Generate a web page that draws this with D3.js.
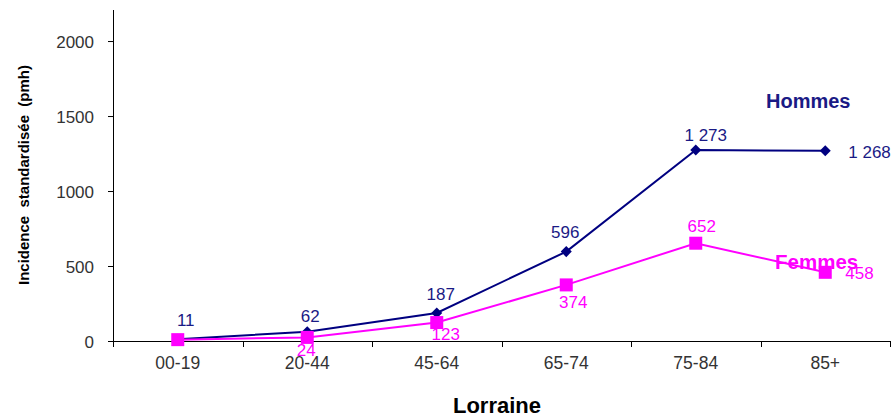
<!DOCTYPE html>
<html><head><meta charset="utf-8">
<script src="https://cdn.jsdelivr.net/npm/d3@7"></script>
<style>
body{margin:0;background:#fff;}
text{font-family:"Liberation Sans",Arial,sans-serif;}
</style></head>
<body>
<svg id="chart" width="893" height="417"></svg>
<script>
// Age groups and standardised incidence per sex (pmh)
const categories = ["00-19","20-44","45-64","65-74","75-84","85+"];
const hommes = [11, 62, 187, 596, 1273, 1268];
const femmes = [9, 24, 123, 374, 652, 458];
const hommesLabels = ["11","62","187","596","1 273","1 268"];
const femmesLabels = [null,"24","123","374","652","458"];
const yTicks = [0, 500, 1000, 1500, 2000];

const svg = d3.select("#chart");
const x = d3.scaleBand().domain(categories).range([113, 890]);
const y = d3.scaleLinear().domain([0, 2207]).range([341, 10]);

const navy = "#000080", navyText = "#1a1a85", pink = "#ff00ff";

// Y axis
const yAxis = svg.append("g").attr("transform","translate(113,0)")
  .call(d3.axisLeft(y).tickValues(yTicks).tickFormat(d3.format("d"))
    .tickSize(5).tickSizeOuter(0).tickPadding(14));
yAxis.select(".domain").remove();
yAxis.selectAll("line").attr("stroke","#000");
yAxis.selectAll("text").attr("font-size",17).attr("fill","#333")
  .attr("font-family","Liberation Sans, Arial, sans-serif").attr("dy","0.36em");
svg.append("line").attr("x1",113.5).attr("x2",113.5).attr("y1",10).attr("y2",341).attr("stroke","#000");

// X axis with ticks at category boundaries
svg.append("line").attr("x1",108).attr("x2",890).attr("y1",341.5).attr("y2",341.5).attr("stroke","#000");
const bounds = categories.map(c => x(c)).concat([x.range()[1]]);
svg.selectAll(".xt").data(bounds).enter().append("line")
  .attr("x1",d=>Math.round(d)+0.5).attr("x2",d=>Math.round(d)+0.5)
  .attr("y1",341).attr("y2",347).attr("stroke","#000");
svg.selectAll(".xl").data(categories).enter().append("text")
  .attr("x",d=>x(d)+x.bandwidth()/2).attr("y",369)
  .attr("text-anchor","middle").attr("font-size",17.5).attr("fill","#333").text(d=>d);

// Titles
svg.append("text").attr("transform","translate(29,175) rotate(-90)")
  .attr("text-anchor","middle").attr("font-size",15).attr("font-weight","bold")
  .attr("xml:space","preserve").text("Incidence  standardisée  (pmh)");
svg.append("text").attr("x",497).attr("y",413).attr("text-anchor","middle")
  .attr("font-size",22).attr("font-weight","bold").text("Lorraine");

const cx = c => x(c) + x.bandwidth()/2;
const line = d3.line().x((d,i)=>cx(categories[i])).y(d=>y(d));

// Lines
svg.append("path").datum(hommes).attr("d",line).attr("fill","none").attr("stroke",navy).attr("stroke-width",2);
svg.append("path").datum(femmes).attr("d",line).attr("fill","none").attr("stroke",pink).attr("stroke-width",2);

// Markers
svg.selectAll(".hm").data(hommes).enter().append("path")
  .attr("d", d3.symbol().type(d3.symbolDiamond2).size(78))
  .attr("transform",(d,i)=>`translate(${cx(categories[i])},${y(d)})`).attr("fill",navy);
svg.selectAll(".fm").data(femmes).enter().append("rect")
  .attr("x",(d,i)=>cx(categories[i])-6.5).attr("y",d=>y(d)-6.5)
  .attr("width",13).attr("height",13).attr("fill",pink);

// Value labels: offsets (dx, dy, anchor) from each point
const hOff = [[8,-13,"middle"],[3,-10,"middle"],[4,-13,"middle"],[-1,-14,"middle"],[10,-9,"middle"],[23,7,"start"]];
const fOff = [null,[-1,19,"middle"],[9,17,"middle"],[7,23,"middle"],[6,-11,"middle"],[20,7,"start"]];
function place(vals, labels, offs, color){
  const items = vals.map((v,i)=>({v, i, label: labels[i], off: offs[i]})).filter(d=>d.label!==null);
  svg.selectAll(null).data(items).enter().append("text")
    .attr("x",d=>cx(categories[d.i])+d.off[0])
    .attr("y",d=>y(d.v)+d.off[1])
    .attr("text-anchor",d=>d.off[2])
    .attr("font-size",17).attr("fill",color)
    .text(d=>d.label);
}
place(hommes, hommesLabels, hOff, navyText);
place(femmes, femmesLabels, fOff, pink);

// Series names
svg.append("text").attr("x",766).attr("y",108).attr("font-size",20).attr("font-weight","bold").attr("fill",navyText).text("Hommes");
svg.append("text").attr("x",775).attr("y",269).attr("font-size",20.5).attr("font-weight","bold").attr("fill",pink).text("Femmes");
</script>
</body></html>
